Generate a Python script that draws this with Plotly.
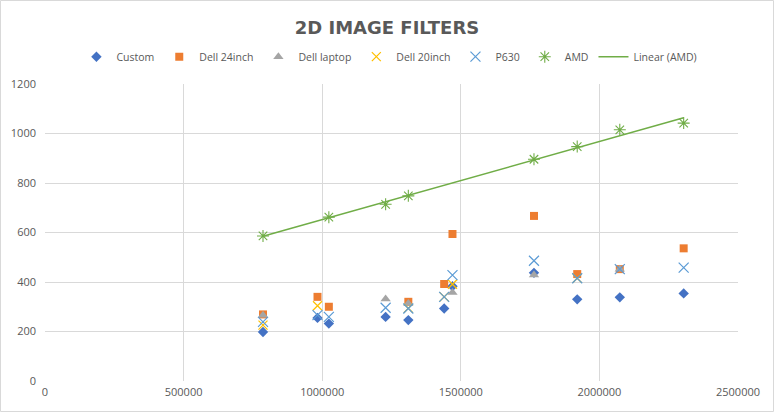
import numpy as np
import plotly.graph_objects as go

pixels = [786432, 983040, 1024000, 1228800, 1310720, 1440000, 1470000,
          1764000, 1920000, 2073600, 2304000]

custom = [198, 255, 232, 259, 246, 293, 383, 437, 330, 338, 354]
dell24 = [269, 340, 300, None, 320, 392, 594, 667, 432, 452, 536]
dell_laptop = [266, None, None, 331, 313, None, 358, 428, None, 452, None]
dell20 = [226, 304, None, None, 294, 340, 391, None, 415, None, None]
p630 = [239, 266, 259, 296, 293, 340, 428, 486, 415, 452, 458]
amd = [586, None, 662, 714, 748, None, None, 896, 947, 1015, 1042]

x_ticks = [0, 500000, 1000000, 1500000, 2000000, 2500000]
y_ticks = [0, 200, 400, 600, 800, 1000, 1200]

GREY = "#595959"
FONT = "Open Sans"

fig = go.Figure()

series = [
    ("Custom", custom, dict(symbol="diamond", size=8, color="#4472C4")),
    ("Dell 24inch", dell24, dict(symbol="square", size=8, color="#ED7D31")),
    ("Dell laptop", dell_laptop, dict(symbol="triangle-up", size=9, color="#A5A5A5")),
    ("Dell 20inch", dell20, dict(symbol="x-thin-open", size=9, color="#FFC000",
                                 line=dict(width=1.2, color="#FFC000"))),
    ("P630", p630, dict(symbol="x-thin-open", size=10, color="#5B9BD5",
                        line=dict(width=1.2, color="#5B9BD5"))),
    ("AMD", amd, dict(symbol="asterisk-open", size=10, color="#70AD47",
                      line=dict(width=1.1, color="#70AD47"))),
]

for name, vals, marker in series:
    fig.add_trace(go.Scatter(x=pixels, y=vals, mode="markers", name=name,
                             marker=marker))

# Linear trendline of AMD
ax = np.array([p for p, v in zip(pixels, amd) if v is not None], dtype=float)
ay = np.array([v for v in amd if v is not None], dtype=float)
slope, intercept = np.polyfit(ax, ay, 1)
tx = np.array([ax.min(), ax.max()])
fig.add_trace(go.Scatter(x=tx, y=slope * tx + intercept, mode="lines",
                         name="Linear (AMD)",
                         line=dict(color="#70AD47", width=1.5)))

fig.update_layout(
    width=774, height=412,
    margin=dict(l=45, r=36, t=84, b=31),
    paper_bgcolor="white", plot_bgcolor="white",
    font=dict(family=FONT, size=11, color=GREY),
    title=dict(text="<b>2D IMAGE FILTERS</b>", x=0.5, xanchor="center",
               y=0.932, yanchor="middle",
               font=dict(family="DejaVu Sans", size=18, color=GREY)),
    legend=dict(orientation="h", x=0.497, xanchor="center", y=1.092,
                yanchor="middle", font=dict(family=FONT, size=10.5, color=GREY),
                itemwidth=30, tracegroupgap=0),
    showlegend=True,
)

fig.update_xaxes(range=[0, 2500000], tickvals=x_ticks,
                 ticktext=[str(v) for v in x_ticks],
                 showgrid=True, gridcolor="#D9D9D9", gridwidth=1,
                 zeroline=False, showline=False, ticks="",
                 ticklabelstandoff=3, automargin=False,
                 tickfont=dict(family=FONT, size=11, color=GREY))
fig.update_yaxes(range=[0, 1200], tickvals=y_ticks,
                 showgrid=True, gridcolor="#D9D9D9", gridwidth=1,
                 zeroline=False, showline=False, ticks="",
                 ticklabelstandoff=8, automargin=False,
                 tickfont=dict(family=FONT, size=11, color=GREY))

# outer chart border
fig.add_shape(type="rect", xref="paper", yref="paper",
              x0=-44.5 / 693, x1=1 + 35.5 / 693, y0=-30.5 / 297, y1=1 + 83.5 / 297,
              line=dict(color="#D9D9D9", width=1), layer="below")

fig.write_html("out.html", config={"displayModeBar": False},
               post_script="document.body.style.margin='0';")
